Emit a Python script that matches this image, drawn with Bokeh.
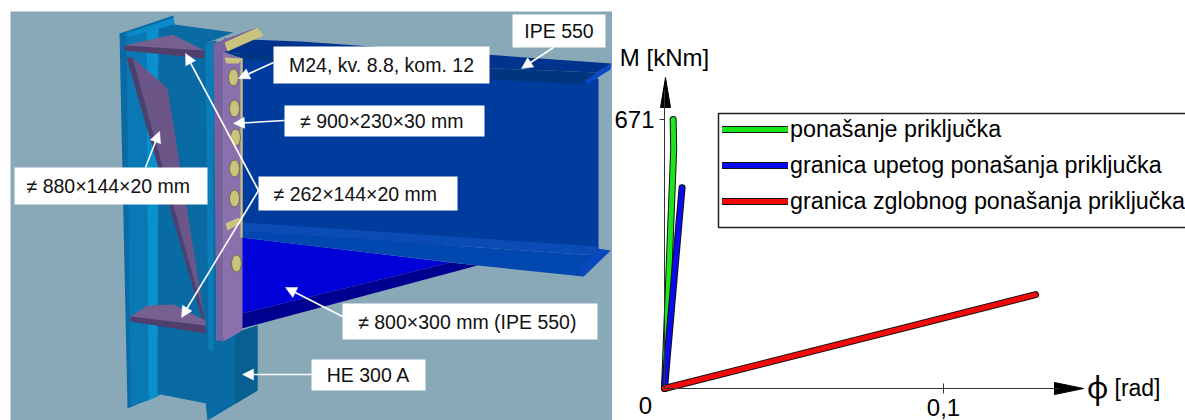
from bokeh.embed import file_html
from bokeh.resources import INLINE
from bokeh.core.properties import value
from bokeh.layouts import row
from bokeh.models import (Arrow, FixedTicker, Label, Legend, LegendItem, NormalHead, Range1d)
from bokeh.plotting import figure

FONT = "Liberation Sans"

# ---------- chart data ----------
phi_behaviour = [0, 0.0033, 0.0031]
M_behaviour = [0, 599, 671]
phi_rigid = [0, 0.0063]
M_rigid = [0, 501]
phi_pinned = [0, 0.133]
M_pinned = [0, 234]
x_tick_labels = {0.1: "0,1"}
y_tick_labels = {671: "671"}
series_names = ["ponašanje priključka", "granica upetog ponašanja priključka",
                "granica zglobnog ponašanja priključka"]

# ---------- illustration (schematic of the joint) ----------
BG = "#89a9b8"
shapes = [
    ("#0a6aa3", [(119, 33), (173, 15), (174, 24), (233, 32), (205, 43), (206, 403), (160, 394), (127, 408)]),
    ("#0a78b4", [(126, 31), (146, 28), (148, 400), (130, 405)]),
    ("#0a90cc", [(146, 28), (158, 26), (157, 396), (148, 400)]),
    ("#0a6aa3", [(204, 43), (216, 40), (216, 340), (242, 330), (257, 325), (257, 390), (207, 420), (205, 400)]),
    ("#075f92", [(235, 332), (257, 325), (257, 390), (235, 403)]),
    ("#0a7db8", [(205, 44), (213, 42), (213, 350), (208, 350)]),
    ("#0a8ac8", [(123, 34), (173, 17), (174, 24), (130, 36)]),
    ("#75608f", [(124, 45), (172, 34), (204, 50), (204, 52), (124, 47)]),
    ("#503f6c", [(124, 45), (204, 50), (204, 58), (124, 50)]),
    ("#503f6c", [(126, 57), (132, 57), (204, 317), (202, 320)]),
    ("#6c5688", [(132, 57), (167, 88), (204, 317)]),
    ("#75608f", [(130, 316), (147, 305), (173, 304), (205, 320), (205, 326), (130, 319)]),
    ("#503f6c", [(130, 316), (205, 325), (205, 333), (130, 321)]),
    ("#003c9e", [(242, 52), (598, 78), (598, 252), (242, 235)]),
    ("#00338c", [(224, 38), (300, 41), (611, 63), (597, 72), (350, 62), (224, 52)]),
    ("#00357f", [(224, 52), (350, 62), (597, 72), (586, 84), (400, 74), (300, 64), (242, 58)]),
    ("#0b48c9", [(597, 72), (611, 63), (610, 69), (586, 84), (585, 80)]),
    ("#0000d8", [(241, 237), (450, 262), (241, 313)]),
    ("#000090", [(241, 313), (450, 262), (477, 265), (226, 332), (226, 327)]),
    ("#0a4cb4", [(226, 221), (598, 246), (597, 255), (226, 230)]),
    ("#0048b0", [(226, 230), (597, 255), (610, 250), (583, 276), (477, 265), (241, 237)]),
    ("#0a48c0", [(597, 248), (610, 250), (583, 276), (580, 268)]),
    ("#7a62a0", [(213, 43), (223, 52), (223, 341), (216, 339)]),
    ("#8a70ac", [(223, 52), (242, 58), (242, 330), (223, 341)]),
    ("#7a62a0", [(213, 43), (256, 27), (260, 32), (223, 52)]),
    ("#c8c47e", [(240, 58), (242, 58), (242, 237), (240, 237)]),
    ("#c8c47e", [(224, 42), (257, 27), (263, 35), (227, 51)]),
    ("#c8c47e", [(225, 223), (238, 217), (242, 222), (227, 230)]),
    ("#c8c47e", [(224, 57), (242, 58), (238, 63), (226, 63)]),
]
bolt_x = [233, 234, 235, 234, 234, 236]
bolt_y = [77, 108, 137, 168, 198, 263]

callouts = [
    ("M24, kv. 8.8, kom. 12", 273, 46, 489, 83),
    ("IPE 550", 512, 14, 605, 47),
    ("≠ 900×230×30  mm", 284, 105, 484, 136),
    ("≠ 262×144×20  mm", 258, 176, 457, 210),
    ("≠ 880×144×20  mm", 14, 167, 207, 204),
    ("≠ 800×300  mm (IPE 550)", 342, 303, 597, 339),
    ("HE 300 A", 311, 359, 425, 390),
]
pointers = [
    (273, 62, 238, 78), (553, 47, 521, 68), (284, 120, 233, 123), (258, 190, 185, 53),
    (258, 190, 181, 317), (145, 167, 159, 131), (342, 316, 285, 287), (311, 374, 242, 374),
]

left = figure(width=612, height=420, x_range=Range1d(0, 612), y_range=Range1d(420, 0),
              output_backend="svg", toolbar_location=None, min_border=0, outline_line_color=None)
left.axis.visible = False
left.grid.visible = False
left.quad(left=[10], right=[612], top=[11], bottom=[420], fill_color=BG, line_color=None)
for colour, pts in shapes:
    left.patch([p[0] for p in pts], [p[1] for p in pts], fill_color=colour, line_color=None)
left.ellipse(bolt_x, bolt_y, width=10, height=17, fill_color="#c8c47e", line_color="#6f6d3e", line_width=1)

for x0, y0, x1, y1 in pointers:
    left.add_layout(Arrow(x_start=x0, y_start=y0, x_end=x1, y_end=y1, line_color="white", line_width=1.6,
                          end=NormalHead(size=11, fill_color="white", line_color="white", line_width=0.5)))
left.quad(left=[c[1] for c in callouts], right=[c[3] for c in callouts], top=[c[2] for c in callouts],
          bottom=[c[4] for c in callouts], fill_color="white", line_color=None)
left.text([(c[1] + c[3]) / 2 for c in callouts], [(c[2] + c[4]) / 2 for c in callouts], text=[c[0] for c in callouts],
          text_font=value(FONT), text_font_size="19.5px", text_color="#111111", text_align="center",
          text_baseline="middle")

# ---------- chart ----------
W, H = 573, 420
X0, Y0 = 664 - 612, 388            # origin in figure pixels
sx = 279 / 0.1
sy = 269 / 671
p = figure(width=W, height=H, output_backend="svg", toolbar_location=None, min_border=0,
           x_range=Range1d(-X0 / sx, (W - X0) / sx), y_range=Range1d(-(H - Y0) / sy, Y0 / sy),
           x_axis_location="below", y_axis_location="left", outline_line_color=None)
p.grid.visible = False
p.axis.axis_line_color = "#333333"
p.axis.major_tick_line_color = "#333333"
p.axis.minor_tick_line_color = None
p.axis.major_label_text_font = FONT
p.axis.major_label_text_font_size = "24px"
p.axis.major_label_text_color = "black"
p.xaxis.fixed_location = 0
p.yaxis.fixed_location = 0
p.xaxis.ticker = FixedTicker(ticks=list(x_tick_labels))
p.yaxis.ticker = FixedTicker(ticks=list(y_tick_labels))
p.xaxis.major_label_overrides = x_tick_labels
p.yaxis.major_label_overrides = y_tick_labels
p.xaxis.major_tick_in = 5
p.xaxis.major_tick_out = 5
p.yaxis.major_tick_in = 0
p.yaxis.major_tick_out = 5
p.xaxis.bounds = (0, 0.1415)
p.yaxis.bounds = (0, 745)


def px(x):
    return (x - 612 - X0) / sx


def py(y):
    return (Y0 - y) / sy


p.quad(left=[px(718)], right=[px(1195)], top=[py(113)], bottom=[py(227)], fill_color="white",
       line_color="#222222", line_width=1.5)

series = [(phi_behaviour, M_behaviour, "#1ae61a"), (phi_rigid, M_rigid, "#0a0aee"), (phi_pinned, M_pinned, "#f20a0a")]
items = []
for (xs, ys, colour), name in zip(series, series_names):
    edge = p.line(xs, ys, line_color="#111111", line_width=7, line_cap="round", line_join="round")
    core = p.line(xs, ys, line_color=colour, line_width=5, line_cap="round", line_join="round")
    items.append(LegendItem(label=name, renderers=[edge, core]))

legend = Legend(items=items, location=(722 - 612, H - 218), orientation="vertical", label_text_font=FONT,
                label_text_font_size="23.3px", label_text_color="black", glyph_width=66, glyph_height=34,
                label_height=34, spacing=2, margin=0, padding=3, label_standoff=2, border_line_color=None,
                background_fill_alpha=0)
p.add_layout(legend, "center")

p.patch([px(1054), px(1083), px(1054)], [py(382), py(388), py(394)], fill_color="black", line_color="black")
p.patch([px(660), px(665), px(670)], [py(107), py(77), py(107)], fill_color="black", line_color="black")
for text, x, y, size, font in [("M [kNm]", 664, 57, "24px", FONT), ("0", 645, 405, "24px", FONT),
                               ("[rad]", 1137, 387, "23px", FONT), ("ϕ", 1097, 387, "30px", "Noto Sans")]:
    p.add_layout(Label(x=px(x), y=py(y), text=text, text_font=font, text_font_size=size, text_align="center",
                       text_baseline="middle", text_color="black"))

open("out.html", "w").write(file_html(row(left, p, spacing=0), INLINE))
